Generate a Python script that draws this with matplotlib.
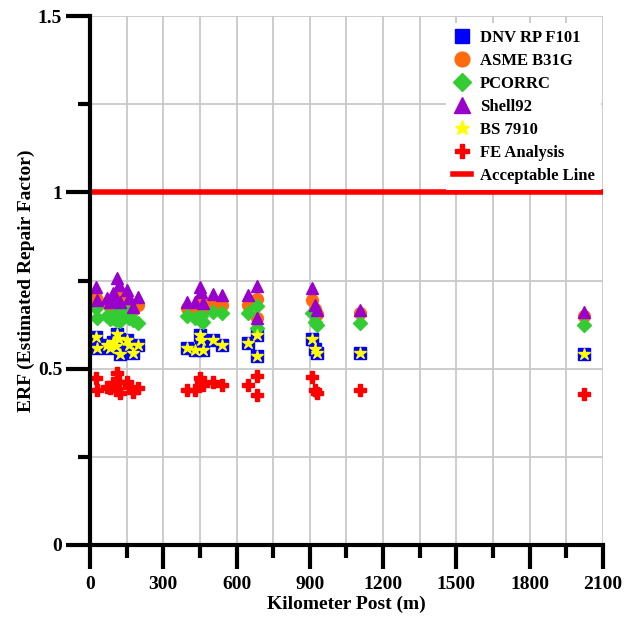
import matplotlib.pyplot as plt
from matplotlib.ticker import MultipleLocator

# defect locations (km post) and ERF per method
km = [25, 28, 70, 80, 95, 105, 112, 118, 122, 150, 160, 175, 195,
      396, 430, 450, 455, 462, 505, 539,
      645, 682, 682,
      907, 921, 928,
      1105, 2022]

dnv = [0.590, 0.560, 0.567, 0.560, 0.575, 0.565, 0.598, 0.585, 0.543, 0.581, 0.567, 0.545, 0.567,
       0.560, 0.553, 0.595, 0.581, 0.553, 0.581, 0.567,
       0.572, 0.595, 0.536,
       0.584, 0.555, 0.545,
       0.545, 0.543]
asme = [0.700, 0.690, 0.685, 0.675, 0.690, 0.680, 0.710, 0.700, 0.672, 0.695, 0.680, 0.665, 0.680,
        0.671, 0.665, 0.695, 0.680, 0.670, 0.685, 0.680,
        0.680, 0.697, 0.643,
        0.695, 0.670, 0.655,
        0.657, 0.649]
pcorrc = [0.671, 0.645, 0.650, 0.640, 0.645, 0.638, 0.660, 0.650, 0.635, 0.662, 0.645, 0.638, 0.630,
          0.648, 0.643, 0.638, 0.650, 0.633, 0.662, 0.657,
          0.657, 0.678, 0.614,
          0.657, 0.633, 0.625,
          0.630, 0.625]
shell92 = [0.732, 0.695, 0.700, 0.690, 0.715, 0.700, 0.756, 0.737, 0.690, 0.723, 0.700, 0.675, 0.704,
           0.690, 0.690, 0.732, 0.718, 0.685, 0.713, 0.709,
           0.709, 0.734, 0.645,
           0.728, 0.680, 0.666,
           0.666, 0.661]
bs7910 = dnv
fe = [0.473, 0.439, 0.449, 0.444, 0.458, 0.440, 0.487, 0.463, 0.430, 0.463, 0.449, 0.435, 0.444,
      0.439, 0.439, 0.473, 0.463, 0.454, 0.463, 0.454,
      0.454, 0.479, 0.425,
      0.477, 0.439, 0.430,
      0.439, 0.428]

plt.rcParams['font.family'] = 'Liberation Serif'
plt.rcParams['font.weight'] = 'bold'

fig = plt.figure(figsize=(6.35, 6.21), dpi=100)
ax = fig.add_axes([0.1417, 0.1224, 0.8079, 0.8518])

ax.plot(km, dnv, 's', color='#0000ff', ms=8.5, label='DNV RP F101')
ax.plot(km, asme, 'o', color='#ff6a0d', ms=8.5, label='ASME B31G')
ax.plot(km, pcorrc, 'D', color='#33cc33', ms=7, label='PCORRC')
ax.plot(km, shell92, '^', color='#9900cc', ms=9, label='Shell92')
ax.plot(km, bs7910, '*', color='#ffff00', ms=9, label='BS 7910')
ax.plot(km, fe, 'P', color='#ff0000', ms=8, label='FE Analysis')
ax.axhline(1.0, color='#ff0000', lw=4, label='Acceptable Line', zorder=1.5)

ax.set_xlim(0, 2100)
ax.set_ylim(0, 1.5)
ax.xaxis.set_major_locator(MultipleLocator(300))
ax.xaxis.set_minor_locator(MultipleLocator(150))
ax.yaxis.set_minor_locator(MultipleLocator(0.25))
ax.set_yticks([0, 0.5, 1, 1.5])
ax.set_yticklabels(['0', '0.5', '1', '1.5'])

ax.grid(True, which='both', color='#c8c8c8', lw=1.3, zorder=0)
ax.set_axisbelow(True)
for s in ['top', 'right']:
    ax.spines[s].set_visible(False)
for s in ['left', 'bottom']:
    ax.spines[s].set_linewidth(3)
ax.tick_params(which='major', direction='out', length=17, width=3, labelsize=14, pad=5)
ax.tick_params(which='minor', direction='out', length=9, width=3)
ax.tick_params(axis='y', which='major', pad=3)

ax.set_xlabel('Kilometer Post (m)', fontsize=14, fontweight='bold', labelpad=2)
ax.set_ylabel('ERF (Estimated Repair Factor)', fontsize=14, fontweight='bold', labelpad=2)

leg = ax.legend(loc='upper right', bbox_to_anchor=(1.0, 0.99), fontsize=12, frameon=True,
                framealpha=1, edgecolor='none', fancybox=False, handlelength=1.1,
                handletextpad=0.5, labelspacing=0.42, borderaxespad=0.1, markerscale=1.25)
for t in leg.get_texts():
    t.set_fontweight('bold')

plt.savefig('out.png', dpi=100)
